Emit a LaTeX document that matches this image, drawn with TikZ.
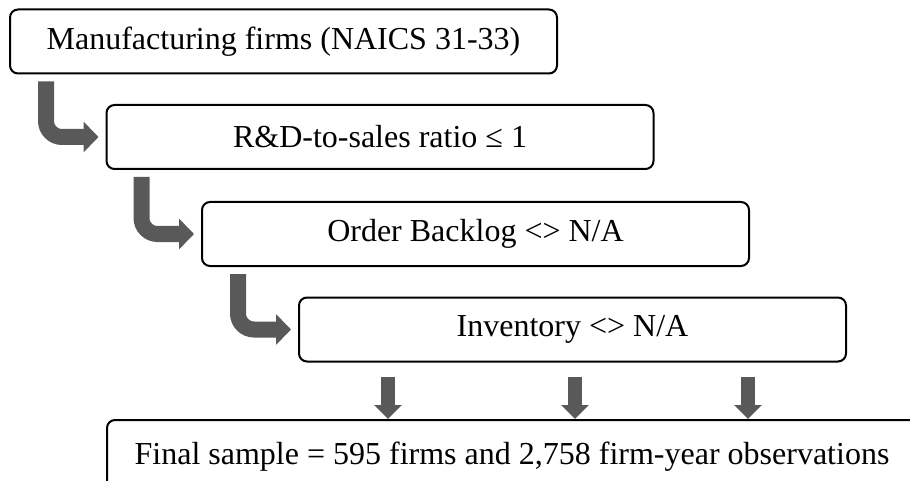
\documentclass[tikz,border=0pt]{standalone}
\usepackage{fontspec}
\setmainfont{Liberation Serif}
\usetikzlibrary{arrows.meta,calc}
\definecolor{arrowgray}{HTML}{595959}
\begin{document}
\begin{tikzpicture}[x=1pt,y=-1pt,
  stagebox/.style={draw=black,line width=2pt,rounded corners=8pt,minimum width=547pt,minimum height=64pt,inner sep=0pt,font=\fontsize{32}{38}\selectfont,anchor=center},
  bentarrow/.style={draw=arrowgray,line width=16pt,rounded corners=16pt,-{Triangle[length=15pt,width=30pt]},shorten >=7pt},
  downarrow/.style={draw=arrowgray,line width=14pt,-{Triangle[length=14pt,width=27pt]}}]
\useasboundingbox (0,0) rectangle (910,481);
\node[stagebox] (b1) at (283.5,41.5) {Manufacturing firms (NAICS 31-33)};
\node[stagebox] (b2) at (380,137) {R\&D-to-sales ratio ≤ 1};
\node[stagebox] (b3) at (475.5,234) {Order Backlog <> N/A};
\node[stagebox] (b4) at (572.5,329.5) {Inventory <> N/A};
\node[stagebox,minimum width=810pt,minimum height=74pt] (fin) at (512,457) {Final sample = 595 firms and 2,758 firm-year observations};
\coordinate (s1) at ($(b1.south west)+(37,7)$);
\coordinate (s2) at ($(b2.south west)+(36,7)$);
\coordinate (s3) at ($(b3.south west)+(37,7)$);
\draw[bentarrow] (s1) |- (b2.west);
\draw[bentarrow] (s2) |- (b3.west);
\draw[bentarrow] (s3) |- (b4.west);
\coordinate (d1) at ($(b4.south west)+(90,14)$);
\coordinate (d2) at ($(b4.south west)+(277,14)$);
\coordinate (d3) at ($(b4.south west)+(450,14)$);
\draw[downarrow] (d1) -- (d1 |- fin.north);
\draw[downarrow] (d2) -- (d2 |- fin.north);
\draw[downarrow] (d3) -- (d3 |- fin.north);
\end{tikzpicture}
\end{document}
